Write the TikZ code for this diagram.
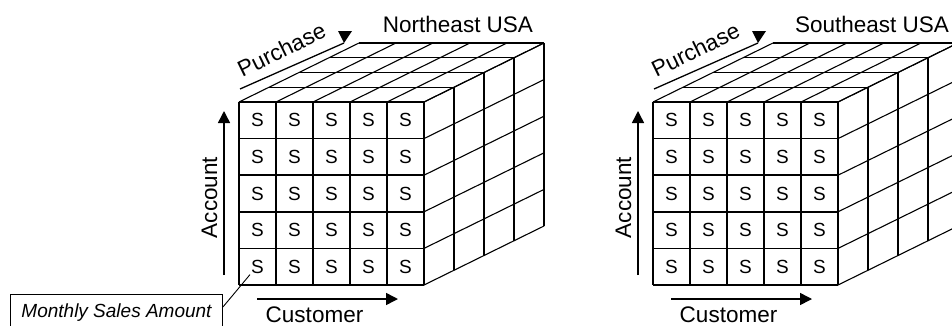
\documentclass[tikz,border=0pt]{standalone}
\usepackage{fontspec}
\setmainfont{Liberation Sans}
\usetikzlibrary{arrows.meta}
\begin{document}
\begin{tikzpicture}[x=1pt,y=-1pt,
  grid/.style={line width=1.6pt},
  depthline/.style={line width=1.1pt},
  axis/.style={line width=1.5pt,-{Triangle[length=12pt,width=12pt]}},
  cell/.style={font=\fontsize{19}{19}\selectfont, inner sep=1pt},
  lbl/.style={font=\fontsize{22.5}{22.5}\selectfont, inner sep=0pt},
]
\useasboundingbox (0,0) rectangle (952,325);
\clip (0,0) rectangle (952,325);
% one data cube per region, the second shifted to the right
\foreach \ox/\title/\id in {0/Northeast USA/a, 414/Southeast USA/b}{
  \begin{scope}[xshift=\ox]
    % front face grid
    \foreach \i in {0,...,5}
      \draw[grid] ({239+\i*37},102) -- ({239+\i*37},285);
    \foreach \j in {0,...,5}
      \draw[grid] (239,{102+\j*36.6}) -- (424,{102+\j*36.6});
    % top face
    \foreach \i in {0,...,5}
      \draw[depthline] ({239+\i*37},102) -- ++(120,-59);
    \foreach \k in {1,...,4}
      \draw[depthline] ({239+\k*30},{102-\k*14.75}) -- ++(185,0);
    % right face
    \foreach \k in {1,...,4}
      \draw[depthline] ({424+\k*30},{102-\k*14.75}) -- ++(0,183);
    \foreach \j in {0,...,5}
      \draw[depthline] (424,{102+\j*36.6}) -- ++(120,-59);
    % cell contents
    \foreach \i in {1,...,5}
      \foreach \j in {1,...,5}
        \node[cell] (s\id-\i-\j) at ({239+(\i-0.5)*37},{102+(\j-0.5)*36.6}) {S};
    % Account axis
    \coordinate (acc0\id) at (224,275);
    \coordinate (acc1\id) at (224,111);
    \draw[axis] (acc0\id) -- (acc1\id);
    \node[lbl,rotate=90,anchor=base] (acct\id) at (217,197.5) {Account};
    % Customer axis
    \coordinate (cus0\id) at (257,299);
    \coordinate (cus1\id) at (398,299);
    \draw[axis] (cus0\id) -- (cus1\id);
    \node[lbl,anchor=base] (cust\id) at (314.5,322) {Customer};
    % Purchase axis
    \coordinate (pur0\id) at (240,89);
    \coordinate (pur1\id) at (344,43);
    \draw[line width=1.3pt] (pur0\id) -- (pur1\id);
    \fill (pur1\id) -- ++(-6,-12) -- ++(14,0) -- cycle;
    \node[lbl,rotate=26,anchor=base] (purch\id) at (285,57) {Purchase};
    % region title
    \node[lbl,anchor=base] (title\id) at (458,32) {\title};
  \end{scope}
}
% callout for the cell measure
\node[draw, line width=1pt, font=\fontsize{19}{19}\selectfont\itshape,
      minimum width=212pt, minimum height=36pt, anchor=north west, inner sep=0pt]
      (msa) at (10,294) {Monthly Sales Amount};
\draw[line width=0.9pt] (msa.3) -- (sa-1-5.south west);
\end{tikzpicture}
\end{document}
